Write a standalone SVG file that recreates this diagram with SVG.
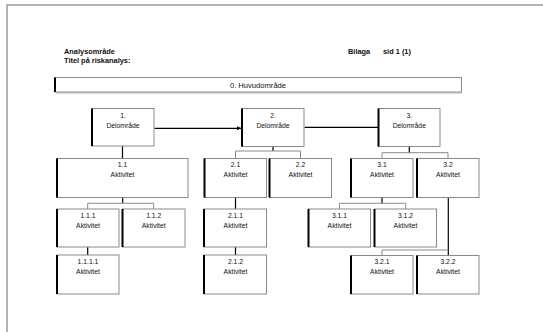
<svg xmlns="http://www.w3.org/2000/svg" width="543" height="332" viewBox="0 0 543 332">
<style>
.bx{fill:#fff;stroke:#8a8a8a;stroke-width:1}
.lf{stroke:#000;stroke-width:2}
.t{font-family:"Liberation Sans",Arial,sans-serif;font-size:6.8px;fill:#111;text-anchor:middle}
.h{font-family:"Liberation Sans",Arial,sans-serif;font-size:7.4px;font-weight:bold;fill:#111}
.stem{stroke:#000;stroke-width:1.2;fill:none}
.br{stroke:#8a8a8a;stroke-width:1;fill:none}
</style>
<defs>
<marker id="ah" markerWidth="6" markerHeight="6" refX="5" refY="3" orient="auto" markerUnits="userSpaceOnUse">
<path d="M0,0.8 L5,3 L0,5.2 Z" fill="#000"/>
</marker>
</defs>
<rect width="543" height="332" fill="#fff"/>
<g id="page">
<path d="M7,332 V5 H543" fill="none" stroke="#9a9a9a" stroke-width="1.5"/>
</g>
<g id="header">
<text class="h" x="64" y="53.5">Analysområde</text>
<text class="h" x="64" y="62.5">Titel på riskanalys:</text>
<text class="h" x="348" y="53.5">Bilaga</text>
<text class="h" x="383" y="53.5">sid 1 (1)</text>
</g>
<g id="connectors">
<line class="stem" x1="122.5" y1="145.7" x2="122.5" y2="158.5"/>
<line class="stem" x1="154.5" y1="128.3" x2="241.5" y2="128.3" marker-end="url(#ah)"/>
<line class="stem" x1="304.5" y1="127.3" x2="378.5" y2="127.3"/>
<line class="stem" x1="273" y1="146.5" x2="273" y2="151"/>
<path class="br" d="M235.5,158.5 V151 H300.5 V158.5"/>
<line class="stem" x1="409.3" y1="146.7" x2="409.3" y2="152.7"/>
<path class="br" d="M382,158.5 V152.7 H448 V158.5"/>
<line class="stem" x1="122.7" y1="197.5" x2="122.7" y2="203.3"/>
<path class="br" d="M87.7,209 V203.3 H153.7 V209"/>
<line class="stem" x1="87.7" y1="247" x2="87.7" y2="255"/>
<line class="stem" x1="235.5" y1="197.5" x2="235.5" y2="209"/>
<line class="stem" x1="235.5" y1="247" x2="235.5" y2="255"/>
<line class="stem" x1="382" y1="197.5" x2="382" y2="203.3"/>
<path class="br" d="M339.5,209 V203.3 H405.7 V209"/>
<line class="stem" x1="448.3" y1="197.5" x2="448.3" y2="255.5"/>
<path class="br" d="M382,255.5 V250 H448.3"/>
</g>
<g id="n0">
<line x1="56" y1="93" x2="462" y2="93" stroke="#d0d0d0" stroke-width="1.5"/>
<rect class="bx" x="55" y="77.5" width="406.5" height="14.5"/>
<line class="lf" x1="55" y1="77.5" x2="55" y2="92" stroke-width="1.3"/>
<text class="t" x="258" y="88" style="font-size:7.6px">0.  Huvudområde</text>
</g>
<g id="d1">
<rect class="bx" x="92" y="108.5" width="62" height="37.5"/>
<line class="lf" x1="92" y1="108.5" x2="92" y2="146"/>
<text class="t" x="123" y="117.5">1.</text>
<text class="t" x="123" y="127.5">Delområde</text>
</g>
<g id="d2">
<rect class="bx" x="242" y="108.5" width="62" height="38"/>
<line class="lf" x1="242" y1="108.5" x2="242" y2="146.5"/>
<text class="t" x="273" y="117.5">2.</text>
<text class="t" x="273" y="127.5">Delområde</text>
</g>
<g id="d3">
<rect class="bx" x="378.5" y="108.5" width="61.5" height="38"/>
<line class="lf" x1="378.5" y1="108.5" x2="378.5" y2="146.5"/>
<text class="t" x="409.3" y="117.5">3.</text>
<text class="t" x="409.3" y="127.5">Delområde</text>
</g>
<g id="a11">
<rect class="bx" x="57" y="158.5" width="131" height="39"/>
<line class="lf" x1="57" y1="158.5" x2="57" y2="197.5"/>
<text class="t" x="122.5" y="166.5">1.1</text>
<text class="t" x="122.5" y="176.5">Aktivitet</text>
</g>
<g id="a21">
<rect class="bx" x="204.5" y="158.5" width="62" height="39"/>
<line class="lf" x1="204.5" y1="158.5" x2="204.5" y2="197.5"/>
<text class="t" x="235.5" y="166.5">2.1</text>
<text class="t" x="235.5" y="176.5">Aktivitet</text>
</g>
<g id="a22">
<rect class="bx" x="269.5" y="158.5" width="62" height="39"/>
<line class="lf" x1="269.5" y1="158.5" x2="269.5" y2="197.5"/>
<text class="t" x="300.5" y="166.5">2.2</text>
<text class="t" x="300.5" y="176.5">Aktivitet</text>
</g>
<g id="a31">
<rect class="bx" x="351" y="158.5" width="62" height="39"/>
<line class="lf" x1="351" y1="158.5" x2="351" y2="197.5"/>
<text class="t" x="382" y="166.5">3.1</text>
<text class="t" x="382" y="176.5">Aktivitet</text>
</g>
<g id="a32">
<rect class="bx" x="417" y="158.5" width="62" height="39"/>
<line class="lf" x1="417" y1="158.5" x2="417" y2="197.5"/>
<text class="t" x="448" y="166.5">3.2</text>
<text class="t" x="448" y="176.5">Aktivitet</text>
</g>
<g id="a111">
<rect class="bx" x="57" y="209" width="62" height="38"/>
<line class="lf" x1="57" y1="209" x2="57" y2="247"/>
<text class="t" x="88" y="217.5">1.1.1</text>
<text class="t" x="88" y="227.5">Aktivitet</text>
</g>
<g id="a112">
<rect class="bx" x="122.5" y="209" width="62.5" height="38"/>
<line class="lf" x1="122.5" y1="209" x2="122.5" y2="247"/>
<text class="t" x="153.7" y="217.5">1.1.2</text>
<text class="t" x="153.7" y="227.5">Aktivitet</text>
</g>
<g id="a1111">
<rect class="bx" x="57" y="255" width="62" height="39"/>
<line class="lf" x1="57" y1="255" x2="57" y2="294"/>
<text class="t" x="88" y="263.5">1.1.1.1</text>
<text class="t" x="88" y="273.5">Aktivitet</text>
</g>
<g id="a211">
<rect class="bx" x="204" y="209" width="62.5" height="38"/>
<line class="lf" x1="204" y1="209" x2="204" y2="247"/>
<text class="t" x="235.5" y="217.5">2.1.1</text>
<text class="t" x="235.5" y="227.5">Aktivitet</text>
</g>
<g id="a212">
<rect class="bx" x="204" y="255" width="62.5" height="39"/>
<line class="lf" x1="204" y1="255" x2="204" y2="294"/>
<text class="t" x="235.5" y="263.5">2.1.2</text>
<text class="t" x="235.5" y="273.5">Aktivitet</text>
</g>
<g id="a311">
<rect class="bx" x="308.5" y="209" width="62" height="38"/>
<line class="lf" x1="308.5" y1="209" x2="308.5" y2="247"/>
<text class="t" x="339.5" y="217.5">3.1.1</text>
<text class="t" x="339.5" y="227.5">Aktivitet</text>
</g>
<g id="a312">
<rect class="bx" x="374.5" y="209" width="62" height="38"/>
<line class="lf" x1="374.5" y1="209" x2="374.5" y2="247"/>
<text class="t" x="405.5" y="217.5">3.1.2</text>
<text class="t" x="405.5" y="227.5">Aktivitet</text>
</g>
<g id="a321">
<rect class="bx" x="351" y="255.5" width="62" height="38.5"/>
<line class="lf" x1="351" y1="255.5" x2="351" y2="294"/>
<text class="t" x="382" y="263.5">3.2.1</text>
<text class="t" x="382" y="273.5">Aktivitet</text>
</g>
<g id="a322">
<rect class="bx" x="417" y="255.5" width="62" height="38.5"/>
<line class="lf" x1="417" y1="255.5" x2="417" y2="294"/>
<text class="t" x="448" y="263.5">3.2.2</text>
<text class="t" x="448" y="273.5">Aktivitet</text>
</g>
</svg>
